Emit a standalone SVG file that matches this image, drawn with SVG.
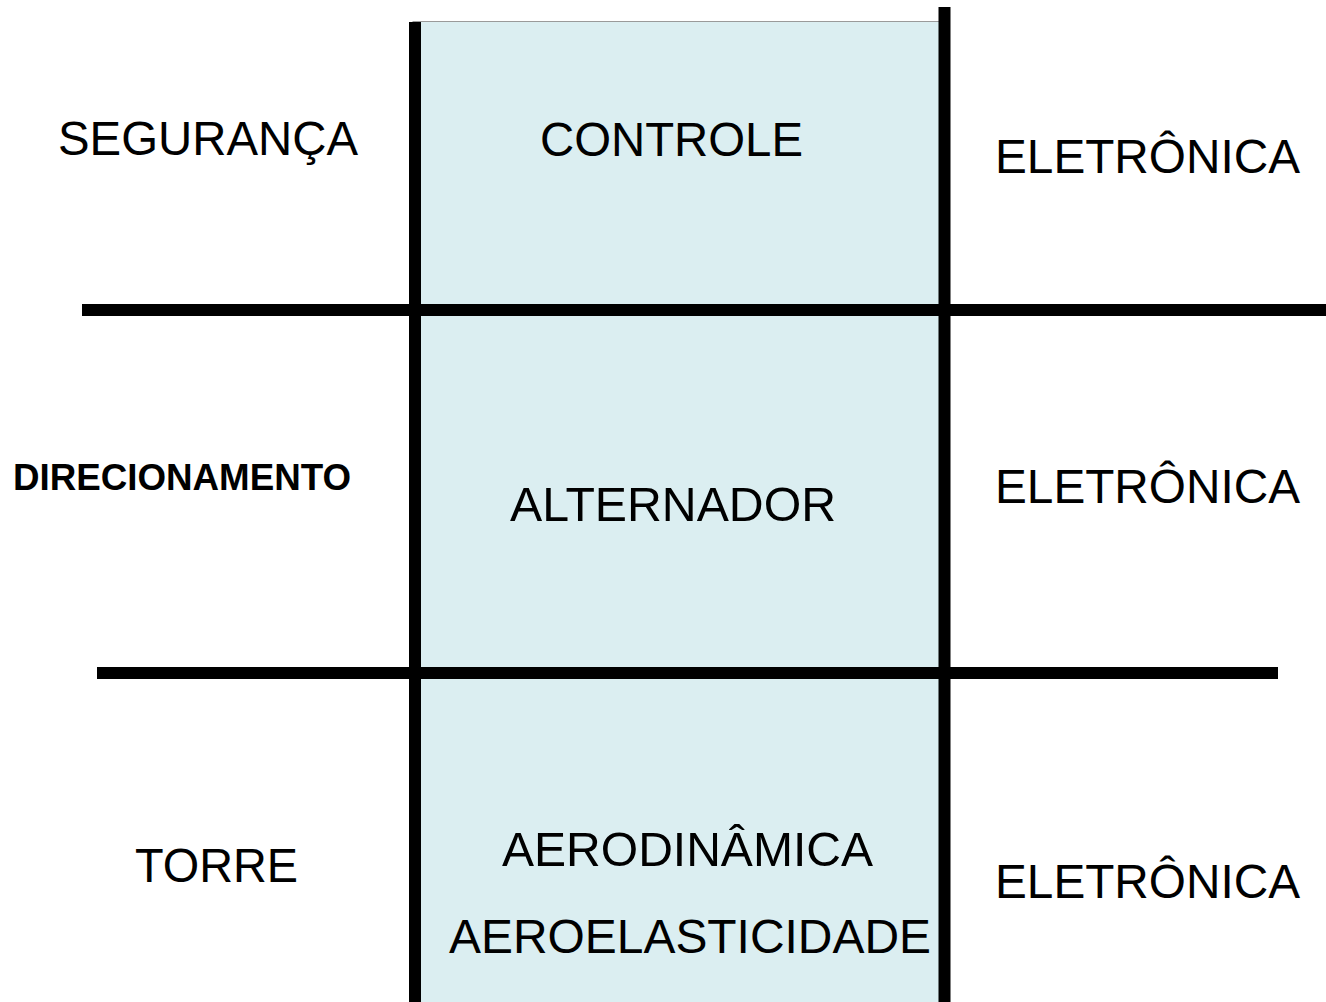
<svg xmlns="http://www.w3.org/2000/svg" width="1326" height="1002" viewBox="0 0 1326 1002">
<style>
.t{font-family:"Liberation Sans",Arial,sans-serif;font-size:48px;fill:#000}
.b{font-family:"Liberation Sans",Arial,sans-serif;font-size:36px;font-weight:bold;fill:#000}
.ln{stroke:#000;stroke-width:12;fill:none}
</style>
<rect width="1326" height="1002" fill="#fff"/>
<g id="center-column">
<rect x="413" y="21.5" width="531" height="990" fill="#DBEEF1" stroke="#9a9a9a" stroke-width="1"/>
</g>
<g id="connectors">
<line class="ln" x1="415" y1="22" x2="415" y2="1002"/>
<line class="ln" x1="944.5" y1="7" x2="944.5" y2="1002"/>
<line class="ln" x1="82" y1="310" x2="1326" y2="310"/>
<line class="ln" x1="97" y1="673" x2="1278" y2="673"/>
</g>
<g id="seguranca"><text class="t" x="58" y="155" textLength="300" lengthAdjust="spacingAndGlyphs">SEGURANÇA</text></g>
<g id="controle"><text class="t" x="540" y="156" textLength="263" lengthAdjust="spacingAndGlyphs">CONTROLE</text></g>
<g id="eletronica-1"><text class="t" x="995" y="173" textLength="305" lengthAdjust="spacingAndGlyphs">ELETRÔNICA</text></g>
<g id="direcionamento"><text class="b" x="13" y="490" textLength="338" lengthAdjust="spacingAndGlyphs">DIRECIONAMENTO</text></g>
<g id="alternador"><text class="t" x="510" y="521" textLength="326" lengthAdjust="spacingAndGlyphs">ALTERNADOR</text></g>
<g id="eletronica-2"><text class="t" x="995" y="503" textLength="305" lengthAdjust="spacingAndGlyphs">ELETRÔNICA</text></g>
<g id="torre"><text class="t" x="135" y="882" textLength="163" lengthAdjust="spacingAndGlyphs">TORRE</text></g>
<g id="aerodinamica"><text class="t" x="502" y="866" textLength="371" lengthAdjust="spacingAndGlyphs">AERODINÂMICA</text></g>
<g id="aeroelasticidade"><text class="t" x="449" y="953" textLength="482" lengthAdjust="spacingAndGlyphs">AEROELASTICIDADE</text></g>
<g id="eletronica-3"><text class="t" x="995" y="898" textLength="305" lengthAdjust="spacingAndGlyphs">ELETRÔNICA</text></g>
</svg>
